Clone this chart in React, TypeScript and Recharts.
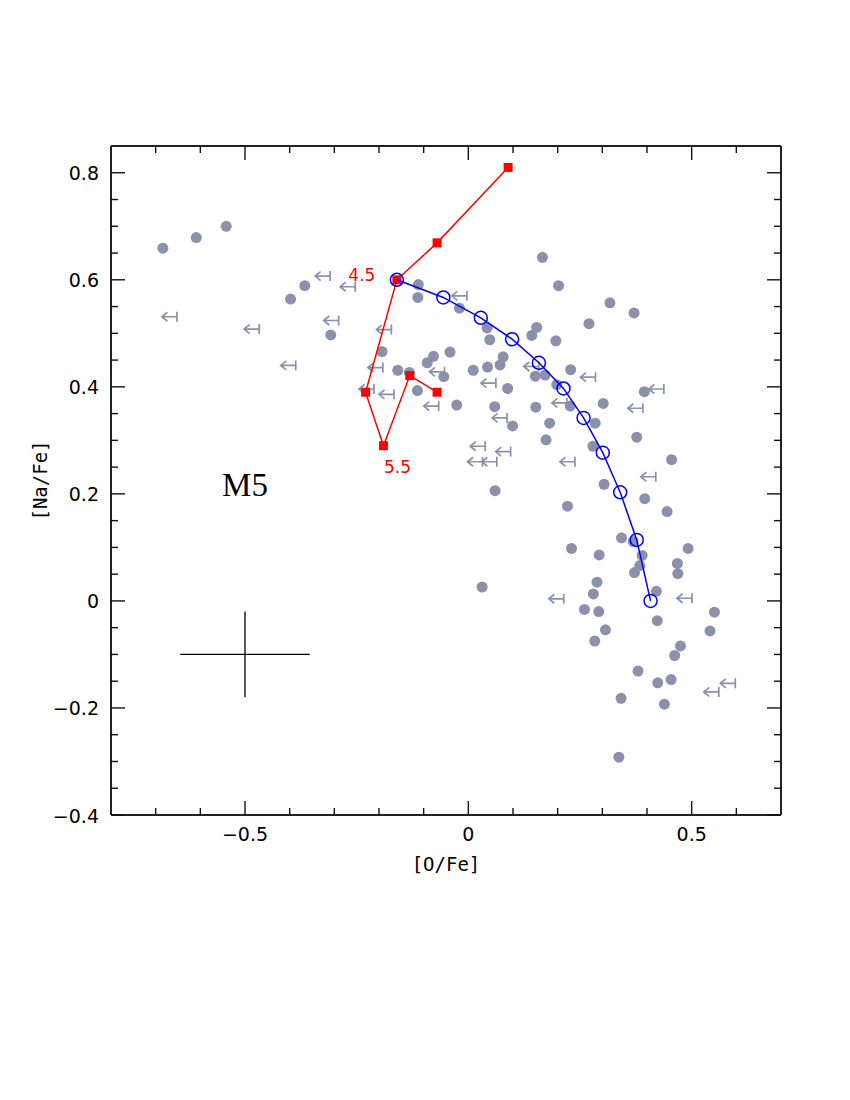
import React from "react"
import { ScatterChart, Scatter, XAxis, YAxis, ErrorBar, ReferenceDot } from "recharts"

// [O/Fe], [Na/Fe] for stars with both abundances measured
const detections: [number, number][] = [
  [-0.684, 0.659], [-0.609, 0.679], [-0.542, 0.7], [-0.366, 0.589], [-0.398, 0.564],
  [-0.308, 0.497], [-0.112, 0.591], [-0.113, 0.567], [-0.193, 0.466], [-0.078, 0.457],
  [-0.092, 0.445], [-0.041, 0.465], [-0.158, 0.431], [-0.132, 0.427], [-0.055, 0.419],
  [-0.114, 0.393], [-0.02, 0.547], [0.166, 0.642], [0.202, 0.589], [0.317, 0.557],
  [0.371, 0.538], [0.27, 0.518], [0.042, 0.51], [0.048, 0.488], [0.153, 0.511],
  [0.142, 0.496], [0.196, 0.486], [0.078, 0.456], [0.071, 0.441], [0.011, 0.431],
  [0.043, 0.437], [0.15, 0.42], [0.172, 0.422], [0.229, 0.432], [0.198, 0.404],
  [0.088, 0.397], [0.394, 0.391], [-0.026, 0.366], [0.059, 0.363], [0.151, 0.362],
  [0.228, 0.364], [0.302, 0.369], [0.099, 0.327], [0.182, 0.332], [0.284, 0.332],
  [0.174, 0.301], [0.279, 0.289], [0.377, 0.306], [0.455, 0.264], [0.06, 0.206],
  [0.304, 0.218], [0.222, 0.177], [0.395, 0.191], [0.445, 0.167], [0.343, 0.118],
  [0.369, 0.111], [0.231, 0.098], [0.293, 0.086], [0.389, 0.085], [0.492, 0.098],
  [0.384, 0.066], [0.372, 0.053], [0.468, 0.07], [0.469, 0.051], [0.031, 0.026],
  [0.288, 0.035], [0.28, 0.013], [0.421, 0.018], [0.26, -0.016], [0.292, -0.02],
  [0.551, -0.021], [0.423, -0.037], [0.307, -0.054], [0.541, -0.056], [0.283, -0.075],
  [0.475, -0.084], [0.462, -0.102], [0.38, -0.131], [0.424, -0.153], [0.454, -0.147],
  [0.342, -0.182], [0.439, -0.193], [0.337, -0.292],
]

// upper limits on [O/Fe]
const upperLimits: [number, number][] = [
  [-0.668, 0.531], [-0.484, 0.508], [-0.402, 0.44], [-0.325, 0.607], [-0.269, 0.587],
  [-0.306, 0.524], [-0.188, 0.507], [-0.207, 0.436], [-0.227, 0.396], [-0.182, 0.386],
  [-0.069, 0.428], [-0.082, 0.364], [-0.019, 0.57], [0.046, 0.407], [0.142, 0.438],
  [0.269, 0.418], [0.422, 0.396], [0.205, 0.37], [0.375, 0.36], [0.071, 0.342],
  [0.022, 0.289], [0.079, 0.279], [0.016, 0.26], [0.048, 0.26], [0.223, 0.26],
  [0.404, 0.232], [0.198, 0.004], [0.485, 0.005], [0.545, -0.17], [0.582, -0.154],
]

// red track (squares) and its mass labels
const redTrackO = [0.089, -0.07, -0.16, -0.23, -0.19, -0.131, -0.07]
const redTrackNa = [0.81, 0.669, 0.6, 0.39, 0.29, 0.421, 0.39]
const redTrackTags = ["", "", "4.5", "", "5.5", "", ""]

// blue dilution curve (open circles)
const blueCurveO = [-0.16, -0.056, 0.028, 0.098, 0.158, 0.213, 0.258, 0.301, 0.34, 0.377, 0.408]
const blueCurveNa = [0.6, 0.567, 0.529, 0.489, 0.445, 0.397, 0.342, 0.277, 0.203, 0.114, 0.0]

// typical error bar
const errCenter = [-0.5, -0.1]
const errSize = [0.145, 0.08]

const clusterName = "M5"
const clusterPos = [-0.5, 0.217]

const xTicks = [-0.7, -0.6, -0.5, -0.4, -0.3, -0.2, -0.1, 0, 0.1, 0.2, 0.3, 0.4, 0.5, 0.6]
const xMajor = [-0.5, 0, 0.5]
const xMajorLabels = ["\u22120.5", "0", "0.5"]
const yTicks = [
  -0.4, -0.35, -0.3, -0.25, -0.2, -0.15, -0.1, -0.05, 0, 0.05, 0.1, 0.15, 0.2, 0.25, 0.3,
  0.35, 0.4, 0.45, 0.5, 0.55, 0.6, 0.65, 0.7, 0.75, 0.8,
]
const yMajor = [-0.4, -0.2, 0, 0.2, 0.4, 0.6, 0.8]
const yMajorLabels = ["\u22120.4", "\u22120.2", "0", "0.2", "0.4", "0.6", "0.8"]

const GRAY = "#8c91ab"
const RED = "#ff0000"
const BLUE = "#0000ff"
const INK = "#111"
const MAJOR = 14
const MINOR = 7
const tickFont = "'DejaVu Sans', sans-serif"
const monoFont = "'DejaVu Sans Mono', monospace"

const majorIndex = (v: number, list: number[]) => list.findIndex((m) => Math.abs(m - v) < 1e-6)

const detData = detections.map(([x, y]) => ({ x, y }))
const limData = upperLimits.map(([x, y]) => ({ x, y }))
const redData = redTrackO.map((x, i) => ({ x, y: redTrackNa[i], tag: redTrackTags[i] }))
const blueData = blueCurveO.map((x, i) => ({ x, y: blueCurveNa[i] }))
const errData = [{ x: errCenter[0], y: errCenter[1], ex: errSize[0], ey: errSize[1] }]

const tagOffset: Record<string, [number, number]> = { "4.5": [-35, 1], "5.5": [14, 27] }

function BottomTick(p: any) {
  const v = p.payload.value
  const k = majorIndex(v, xMajor)
  const len = k >= 0 ? MAJOR : MINOR
  return (
    <g>
      <line x1={p.x} x2={p.x} y1={p.y} y2={p.y - len} stroke={INK} strokeWidth={1.4} />
      {k >= 0 && (
        <text x={p.x} y={p.y + 26} textAnchor="middle" fontFamily={tickFont} fontSize={19} fill="#000">
          {xMajorLabels[k]}
        </text>
      )}
    </g>
  )
}

function TopTick(p: any) {
  const len = majorIndex(p.payload.value, xMajor) >= 0 ? MAJOR : MINOR
  return <line x1={p.x} x2={p.x} y1={p.y} y2={p.y + len} stroke={INK} strokeWidth={1.4} />
}

function LeftTick(p: any) {
  const k = majorIndex(p.payload.value, yMajor)
  const len = k >= 0 ? MAJOR : MINOR
  return (
    <g>
      <line x1={p.x} x2={p.x + len} y1={p.y} y2={p.y} stroke={INK} strokeWidth={1.4} />
      {k >= 0 && (
        <text x={p.x - 12} y={p.y + 7.5} textAnchor="end" fontFamily={tickFont} fontSize={19} fill="#000">
          {yMajorLabels[k]}
        </text>
      )}
    </g>
  )
}

function RightTick(p: any) {
  const len = majorIndex(p.payload.value, yMajor) >= 0 ? MAJOR : MINOR
  return <line x1={p.x} x2={p.x - len} y1={p.y} y2={p.y} stroke={INK} strokeWidth={1.4} />
}

const StarDot = (p: any) => <circle cx={p.cx} cy={p.cy} r={5.5} fill={GRAY} />

const LimitArrow = (p: any) => {
  const { cx, cy } = p
  const d = `M${cx - 8},${cy} L${cx + 7},${cy} M${cx + 7},${cy - 5} L${cx + 7},${cy + 5} M${cx - 2.5},${cy - 4.5} L${cx - 8},${cy} L${cx - 2.5},${cy + 4.5}`
  return <path d={d} stroke={GRAY} strokeWidth={1.7} fill="none" />
}

const RedSquare = (p: any) => {
  const tag = p.payload?.tag
  const off = tag ? tagOffset[tag] : null
  return (
    <g>
      <rect x={p.cx - 4.5} y={p.cy - 4.5} width={9} height={9} fill={RED} />
      {off && (
        <text x={p.cx + off[0]} y={p.cy + off[1]} textAnchor="middle" fontFamily={tickFont} fontSize={17} fill={RED}>
          {tag}
        </text>
      )}
    </g>
  )
}

const OpenCircle = (p: any) => (
  <circle cx={p.cx} cy={p.cy} r={6.5} fill="none" stroke={BLUE} strokeWidth={1.5} />
)

const NoMarker = () => <g />

export default function App() {
  return (
    <div style={{ width: 834, height: 1000 }}>
      <ScatterChart width={834} height={1000} margin={{ top: 128, right: 51, bottom: 113, left: 0 }}>
        <XAxis
          xAxisId="b"
          dataKey="x"
          type="number"
          domain={[-0.8, 0.7]}
          allowDataOverflow
          ticks={xTicks}
          interval={0}
          tickSize={0}
          tickMargin={0}
          tickLine={false}
          tick={BottomTick}
          height={80}
          axisLine={{ stroke: "#222", strokeWidth: 2 }}
          label={(p: any) => {
            const vb = p.viewBox
            return (
              <text x={vb.x + vb.width / 2} y={vb.y + 56} textAnchor="middle" fontFamily={monoFont} fontSize={19} fill="#000">
                [O/Fe]
              </text>
            )
          }}
        />
        <XAxis
          xAxisId="t"
          orientation="top"
          dataKey="x"
          type="number"
          domain={[-0.8, 0.7]}
          allowDataOverflow
          ticks={xTicks}
          interval={0}
          tickSize={0}
          tickMargin={0}
          tickLine={false}
          tick={TopTick}
          height={10}
          axisLine={{ stroke: "#222", strokeWidth: 2 }}
        />
        <YAxis
          yAxisId="l"
          dataKey="y"
          type="number"
          domain={[-0.4, 0.85]}
          allowDataOverflow
          ticks={yTicks}
          interval={0}
          tickSize={0}
          tickMargin={0}
          tickLine={false}
          tick={LeftTick}
          width={103}
          axisLine={{ stroke: "#222", strokeWidth: 2 }}
          label={(p: any) => {
            const vb = p.viewBox
            const cx = vb.x + 32
            const cy = vb.y + vb.height / 2
            return (
              <text x={cx} y={cy} transform={`rotate(-90 ${cx} ${cy})`} textAnchor="middle" dominantBaseline="central" fontFamily={monoFont} fontSize={19} fill="#000">
                [Na/Fe]
              </text>
            )
          }}
        />
        <YAxis
          yAxisId="r"
          orientation="right"
          dataKey="y"
          type="number"
          domain={[-0.4, 0.85]}
          allowDataOverflow
          ticks={yTicks}
          interval={0}
          tickSize={0}
          tickMargin={0}
          tickLine={false}
          tick={RightTick}
          width={10}
          axisLine={{ stroke: "#222", strokeWidth: 2 }}
        />

        <Scatter xAxisId="b" yAxisId="l" data={detData} shape={StarDot} isAnimationActive={false} />
        <Scatter xAxisId="b" yAxisId="l" data={limData} shape={LimitArrow} isAnimationActive={false} />
        <Scatter
          xAxisId="b"
          yAxisId="l"
          data={redData}
          shape={RedSquare}
          line={{ stroke: RED, strokeWidth: 1.5 }}
          isAnimationActive={false}
        />
        <Scatter
          xAxisId="b"
          yAxisId="l"
          data={blueData}
          shape={OpenCircle}
          line={{ stroke: BLUE, strokeWidth: 1.5 }}
          isAnimationActive={false}
        />
        <Scatter xAxisId="b" yAxisId="l" data={errData} shape={NoMarker} isAnimationActive={false}>
          <ErrorBar dataKey="ex" direction="x" width={0} stroke="#000" strokeWidth={1.3} isAnimationActive={false} />
          <ErrorBar dataKey="ey" direction="y" width={0} stroke="#000" strokeWidth={1.3} isAnimationActive={false} />
        </Scatter>
        <ReferenceDot
          xAxisId="b"
          yAxisId="l"
          x={clusterPos[0]}
          y={clusterPos[1]}
          r={0}
          fill="none"
          stroke="none"
          label={{ value: clusterName, position: "center", fill: "#000", fontSize: 33, fontFamily: "'Liberation Serif', serif" }}
        />
      </ScatterChart>
    </div>
  )
}
